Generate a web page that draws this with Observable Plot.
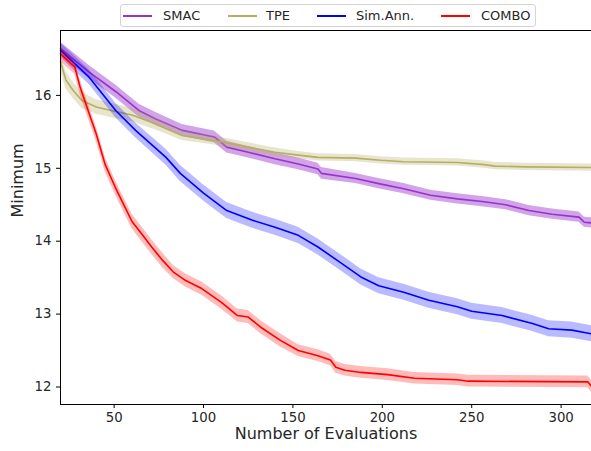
<!DOCTYPE html>
<html><head><meta charset="utf-8">
<script src="https://cdn.jsdelivr.net/npm/d3@7"></script>
<script src="https://cdn.jsdelivr.net/npm/@observablehq/plot@0.6"></script>
<style>
body{margin:0;background:#fff;font-family:"DejaVu Sans",sans-serif}
#wrap{position:relative;width:591px;height:451px}
#legend{position:absolute;left:120px;top:4px;width:414px;height:21px;border:1px solid #d4d4d4;border-radius:3px;background:#fff;font-size:13px;color:#262626}
.item{position:absolute;top:0;height:21px;line-height:21px;white-space:nowrap}
.sw{position:absolute;top:10px;width:29px;height:2px}
</style>
</head><body>
<div id="wrap"><div id="legend"></div></div>
<script>
const seriesNames = ["SMAC", "TPE", "Sim.Ann.", "COMBO"];
const seriesColors = ["#9932CC", "#B5AE63", "#0000FF", "#FF0000"];
const bandOpacity = [0.45, 0.32, 0.27, 0.27];

const smacX = [20,36,51,64,73,88,106,113,125,140,153,164,166,185,198,212,227,242,257,269,282,295,310,313,317];
const smacY = [16.64,16.32,16.05,15.79,15.68,15.52,15.43,15.29,15.22,15.13,15.06,14.99,14.93,14.86,14.79,14.72,14.63,14.58,14.54,14.50,14.42,14.37,14.33,14.26,14.25];
const smacS = [0.09,0.09,0.09,0.09,0.09,0.08,0.08,0.08,0.08,0.08,0.08,0.08,0.08,0.07,0.07,0.07,0.07,0.07,0.07,0.07,0.07,0.07,0.07,0.07,0.07];

const tpeX = [20,23,27,32,40,49,60,73,88,106,125,140,153,164,185,199,212,242,257,263,280,317];
const tpeY = [16.46,16.21,16.07,15.93,15.84,15.79,15.73,15.61,15.45,15.38,15.29,15.22,15.18,15.15,15.14,15.11,15.09,15.08,15.05,15.03,15.02,15.01];
const tpeS = [0.12,0.12,0.11,0.11,0.1,0.1,0.09,0.08,0.07,0.06,0.06,0.06,0.05,0.05,0.05,0.05,0.05,0.05,0.05,0.05,0.05,0.05];

const simX = [20,36,51,62,79,87,100,113,127,140,153,164,177,188,198,212,226,242,250,267,284,293,306,317];
const simY = [16.62,16.25,15.79,15.52,15.15,14.93,14.66,14.42,14.29,14.19,14.08,13.92,13.70,13.51,13.39,13.30,13.19,13.10,13.04,12.98,12.87,12.80,12.78,12.73];
const simS = [0.1,0.1,0.1,0.1,0.11,0.11,0.11,0.11,0.11,0.11,0.11,0.11,0.11,0.11,0.11,0.11,0.11,0.11,0.11,0.11,0.11,0.11,0.11,0.11];

const comboX = [20,26,28,31,36,40,45,51,55,60,66,71,77,83,90,99,110,119,125,132,143,153,164,171,174,179,188,203,218,242,248,315,317];
const comboY = [16.57,16.43,16.39,16.11,15.75,15.47,15.05,14.72,14.52,14.27,14.08,13.92,13.74,13.58,13.46,13.35,13.16,12.98,12.96,12.82,12.64,12.50,12.43,12.37,12.27,12.23,12.20,12.17,12.12,12.10,12.08,12.07,12.01];
const comboS = [0.1,0.1,0.1,0.1,0.1,0.1,0.1,0.1,0.1,0.1,0.1,0.1,0.1,0.09,0.09,0.09,0.09,0.09,0.09,0.09,0.09,0.08,0.08,0.08,0.08,0.08,0.08,0.08,0.08,0.08,0.08,0.08,0.08];

const xTicks = [50, 100, 150, 200, 250, 300];
const yTicks = [12, 13, 14, 15, 16];

const allX = [smacX, tpeX, simX, comboX];
const allY = [smacY, tpeY, simY, comboY];
const allS = [smacS, tpeS, simS, comboS];

const tables = allX.map((xs, i) => xs.map((x, j) => ({x, y: allY[i][j], lo: allY[i][j] - allS[i][j], hi: allY[i][j] + allS[i][j]})));

const marks = [];
tables.forEach((t, i) => {
  marks.push(Plot.areaY(t, {x: "x", y1: "lo", y2: "hi", fill: seriesColors[i], fillOpacity: bandOpacity[i]}));
  marks.push(Plot.line(t, {x: "x", y: "y", stroke: seriesColors[i], strokeWidth: 1.6}));
});

const xMin = 20, xMax = 317, yMin = 11.76, yMax = 16.89;

const chart = Plot.plot({
  width: 591, height: 451,
  marginLeft: 60, marginTop: 30, marginBottom: 47, marginRight: 0,
  style: {fontFamily: "DejaVu Sans", fontSize: "13.3px", color: "#262626", background: "#fff"},
  x: {domain: [xMin, xMax]},
  y: {domain: [yMin, yMax]},
  marks: [
    ...marks,
    Plot.axisX({ticks: xTicks, tickFormat: d => String(d), tickSize: 4, tickPadding: 4, label: null, fontSize: 13.3, stroke: "#000"}),
    Plot.axisY({ticks: yTicks, tickFormat: d => String(d), tickSize: 4, tickPadding: 5, label: null, fontSize: 13.3, stroke: "#000"}),
    Plot.ruleX([xMin], {stroke: "#000", strokeWidth: 1}),
    Plot.ruleY([yMin], {stroke: "#000", strokeWidth: 1}),
    Plot.ruleY([yMax], {stroke: "#000", strokeWidth: 1}),
    Plot.text(["Number of Evaluations"], {frameAnchor: "bottom", dy: 34, fontSize: 16, fill: "#262626"}),
    Plot.text(["Minimum"], {frameAnchor: "left", dx: -43, rotate: -90, fontSize: 16, fill: "#262626"})
  ]
});
const wrap = document.getElementById("wrap");
wrap.insertBefore(chart, wrap.firstChild);

const legendPos = [[2, 42], [107, 145], [196, 235], [320, 360]];
const legend = document.getElementById("legend");
seriesNames.forEach((name, i) => {
  const sw = document.createElement("div");
  sw.className = "sw";
  sw.style.left = legendPos[i][0] + "px";
  sw.style.backgroundColor = seriesColors[i];
  legend.appendChild(sw);
  const it = document.createElement("div");
  it.className = "item";
  it.style.left = legendPos[i][1] + "px";
  it.textContent = name;
  legend.appendChild(it);
});
</script>
</body></html>
